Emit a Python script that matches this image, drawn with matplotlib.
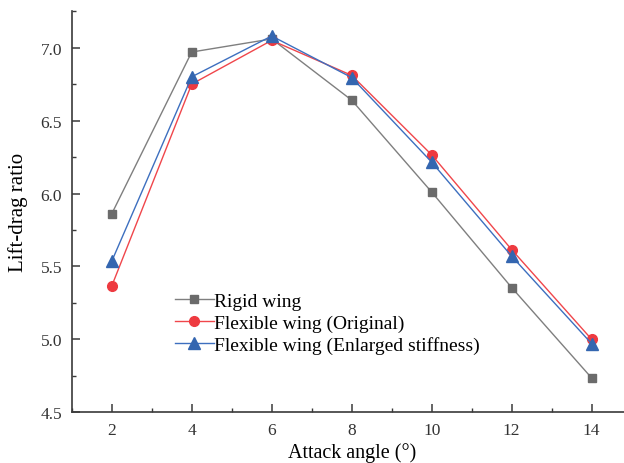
import matplotlib
matplotlib.use("Agg")
import matplotlib.pyplot as plt
from matplotlib.ticker import MultipleLocator

plt.rcParams['font.family'] = ['Liberation Serif', 'DejaVu Serif']

# Lift-drag ratio versus attack angle
angles = [2, 4, 6, 8, 10, 12, 14]
rigid = [5.86, 6.97, 7.06, 6.64, 6.01, 5.355, 4.735]
flex_original = [5.365, 6.75, 7.05, 6.81, 6.265, 5.615, 5.0]
flex_stiff = [5.535, 6.80, 7.08, 6.795, 6.215, 5.57, 4.97]

labels = ["Rigid wing", "Flexible wing (Original)", "Flexible wing (Enlarged stiffness)"]
ytick_vals = [4.5, 5.0, 5.5, 6.0, 6.5, 7.0]
ytick_text = ['4.5', '5.0', '5.5', '6.0', '6.5', '7.0']

fig = plt.figure(figsize=(6.24, 4.64), dpi=100)
W, H = 624, 464
x0, x1 = 71.7, 631.7
y0, y1 = 413.3, 12.2
ax = fig.add_axes([x0 / W, 1 - y0 / H, (x1 - x0) / W, (y0 - y1) / H])

ax.plot(angles, rigid, color='#7f7f7f', lw=1.0, marker='s', ms=6,
        mfc='#6b6b6b', mec='#6b6b6b', label=labels[0])
ax.plot(angles, flex_original, color='#f0464b', lw=1.0, marker='o', ms=7,
        mfc='#ee3a40', mec='#ee3a40', label=labels[1])
ax.plot(angles, flex_stiff, color='#3d6fbf', lw=1.0, marker='^', ms=8,
        mfc='#3466b0', mec='#3466b0', label=labels[2])

ax.set_xlim(1, 15)
ax.set_ylim(4.5, 7.25)
ax.xaxis.set_major_locator(MultipleLocator(2))
ax.xaxis.set_minor_locator(MultipleLocator(1))
ax.yaxis.set_minor_locator(MultipleLocator(0.25))
ax.set_yticks(ytick_vals)
ax.set_yticklabels(ytick_text)

for side in ('top', 'right'):
    ax.spines[side].set_visible(False)
for side in ('left', 'bottom'):
    ax.spines[side].set_color('#3a3a3a')
    ax.spines[side].set_linewidth(1.2)

ax.tick_params(which='major', direction='in', length=6, width=1.1,
               color='#3a3a3a', labelsize=12.5, labelcolor='#333333', pad=7)
ax.tick_params(which='minor', direction='in', length=3, width=1.0,
               color='#3a3a3a')

ax.set_xlabel('Attack angle (°)', fontsize=14.5, labelpad=3)
ax.set_ylabel('Lift-drag ratio', fontsize=15, labelpad=9)

leg = ax.legend(loc='upper left', bbox_to_anchor=(175 / W, 1 - 293 / H),
                bbox_transform=fig.transFigure, frameon=False, fontsize=14,
                handlelength=2.0, handletextpad=0.02, labelspacing=0.22,
                borderpad=0, borderaxespad=0)

fig.savefig('out.png', dpi=100)
